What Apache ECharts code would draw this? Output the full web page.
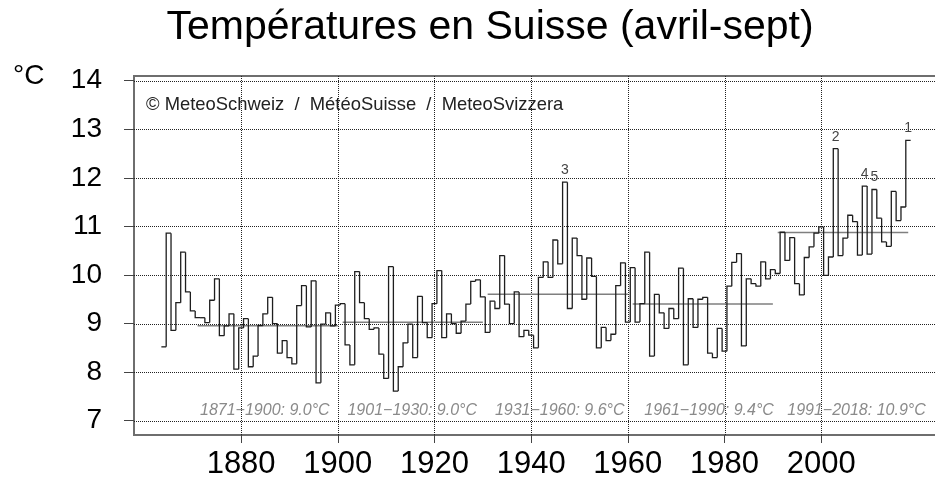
<!DOCTYPE html>
<html lang="fr">
<head>
<meta charset="utf-8">
<title>Températures en Suisse (avril-sept)</title>
<script src="https://cdn.jsdelivr.net/npm/echarts@6/dist/echarts.min.js"></script>
<style>
  html, body { margin: 0; padding: 0; background: #fff; }
  #main { width: 935px; height: 480px; }
</style>
</head>
<body>
<div id="main"></div>
<script>
// température moyenne avril-septembre en Suisse, une valeur par année depuis 1864
var firstYear = 1864;
var temps = [
  8.52, 10.86, 8.86, 9.43, 10.47, 9.65, 9.26,                          // 1864-1870
  9.12, 9.12, 9.02, 9.48, 9.92, 8.75, 8.95, 9.20, 8.06, 8.91,          // 1871-1880
  9.10, 8.11, 8.33, 8.96, 9.20, 9.54, 9.00, 8.39, 8.65, 8.30,          // 1881-1890
  8.17, 9.37, 9.78, 8.93, 9.88, 7.78, 8.99, 9.22, 8.95, 9.38,          // 1891-1900
  9.41, 8.56, 8.15, 10.07, 9.43, 9.10, 8.88, 8.91, 8.37, 7.87,         // 1901-1910
  10.17, 7.61, 8.11, 8.60, 8.99, 8.30, 9.56, 9.02, 8.71, 9.41,         // 1911-1920
  10.09, 8.71, 9.20, 9.00, 8.80, 9.05, 9.40, 9.87, 9.90, 9.55,         // 1921-1930
  8.82, 9.46, 9.31, 10.40, 9.40, 9.00, 9.65, 8.73, 8.86, 8.76,         // 1931-1940
  8.50, 9.95, 10.27, 9.95, 10.72, 10.23, 11.91, 9.31, 10.76, 10.40,    // 1941-1950
  9.50, 10.35, 9.97, 8.50, 8.92, 8.65, 8.78, 9.78, 10.25, 9.03,        // 1951-1960
  10.15, 9.03, 9.41, 10.47, 8.33, 9.60, 9.22, 8.90, 9.31, 9.10,        // 1961-1970
  10.14, 8.15, 9.51, 8.92, 9.50, 9.54, 8.39, 8.30, 8.90, 8.43,         // 1971-1980
  9.77, 10.26, 10.44, 8.54, 9.92, 9.82, 9.77, 10.27, 9.92, 10.11,      // 1981-1990
  10.03, 10.88, 10.30, 10.77, 9.82, 9.59, 10.36, 10.58, 10.86, 10.99,  // 1991-2000
  9.99, 10.37, 12.60, 10.40, 10.76, 11.23, 11.10, 10.41, 11.83, 10.43, // 2001-2010
  11.76, 11.17, 10.68, 10.59, 11.72, 11.12, 11.40, 12.77               // 2011-2018
];
var years = temps.map(function (v, i) { return firstYear + i; });

// périodes de référence
var periodStart = [1871, 1901, 1931, 1961, 1991];
var periodEnd = [1900, 1930, 1960, 1990, 2018];

// graduations
var xTicks = [1880, 1900, 1920, 1940, 1960, 1980, 2000];
var yTicks = [7, 8, 9, 10, 11, 12, 13, 14];

var FONT = "'Liberation Sans', Arial, Helvetica, sans-serif";

// moyenne de chaque période
var normals = periodStart.map(function (s, k) {
  var sum = 0, n = 0;
  years.forEach(function (y, i) {
    if (y >= s && y <= periodEnd[k]) { sum += temps[i]; n++; }
  });
  return sum / n;
});
// où poser le texte des périodes (en années), à peu près comme l'original
var normalLabelAt = [1884.9, 1915.4, 1945.9, 1976.8, 2007.3];

// les 5 années les plus chaudes
var ranked = years.map(function (y, i) { return [y, temps[i]]; })
  .sort(function (a, b) { return b[1] - a[1]; })
  .slice(0, 5)
  .map(function (d, k) { return [d[0], d[1], k + 1]; });

var myChart = echarts.init(document.getElementById('main'));

var option = {
  animation: false,
  backgroundColor: '#fff',
  textStyle: { fontFamily: FONT },
  graphic: [
    {
      type: 'text', x: 490, y: 28,
      style: {
        text: 'Températures en Suisse (avril-sept)', fill: '#000',
        font: '41px ' + FONT, textAlign: 'center', textVerticalAlign: 'middle'
      }
    },
    {
      type: 'text', x: 13, y: 76,
      style: { text: '°C', fill: '#000', font: '28px ' + FONT, textVerticalAlign: 'middle' }
    },
    {
      type: 'text', x: 146, y: 105, z: 10,
      style: {
        text: '© MeteoSchweiz  /  MétéoSuisse  /  MeteoSvizzera', fill: '#222',
        font: '18.4px ' + FONT, textVerticalAlign: 'middle'
      }
    }
  ],
  grid: {
    // le cadre déborde à droite, comme dans l'original (bord droit coupé)
    left: 134, top: 76, width: 804, height: 359,
    outerBoundsMode: 'none', containLabel: false,
    show: true, borderColor: '#6e6e6e', borderWidth: 2, backgroundColor: 'transparent'
  },
  xAxis: {
    type: 'value', min: 1857.84, max: 2024.16,
    axisLine: { show: false },
    splitLine: { show: false },
    axisTick: { customValues: xTicks, length: 8, lineStyle: { color: '#444', width: 1 } },
    axisLabel: {
      customValues: xTicks, fontSize: 31, color: '#000', margin: 14, fontFamily: FONT,
      formatter: function (v) { return String(v); }
    }
  },
  yAxis: {
    type: 'value', min: 6.705, max: 14.097,
    axisLine: { show: false },
    splitLine: { show: false },
    axisTick: { customValues: yTicks, length: 10, lineStyle: { color: '#444', width: 1 } },
    axisLabel: {
      customValues: yTicks, fontSize: 28, color: '#000', margin: 32, fontFamily: FONT,
      padding: [0, 0, 8, 0],
      formatter: function (v) { return String(v); }
    }
  },
  series: [
    {
      // grille pointillée
      name: 'grille', type: 'custom', silent: true, z: 1,
      data: xTicks.map(function (x) { return [x, 'v']; })
        .concat(yTicks.map(function (y) { return [y, 'h']; })),
      encode: { x: -1, y: -1 },
      renderItem: function (params, api) {
        var cs = params.coordSys;
        var val = api.value(0), dir = api.value(1);
        var pts;
        if (dir === 'v') {
          var px = Math.round(api.coord([val, 10])[0]) + 0.5;
          pts = [[px, cs.y], [px, cs.y + cs.height]];
        } else {
          var py = Math.round(api.coord([1900, val])[1]) + 0.5;
          pts = [[cs.x, py], [cs.x + cs.width, py]];
        }
        return {
          type: 'line',
          shape: { x1: pts[0][0], y1: pts[0][1], x2: pts[1][0], y2: pts[1][1] },
          style: { stroke: '#222', lineWidth: 1, lineDash: [1, 1] }
        };
      }
    },
    {
      // moyennes par période
      name: 'normales', type: 'custom', silent: true, z: 2,
      data: periodStart.map(function (s, k) {
        return [s, periodEnd[k], normals[k], normalLabelAt[k]];
      }),
      encode: { x: [0, 1], y: 2 },
      renderItem: function (params, api) {
        var s = api.value(0), e = api.value(1), m = api.value(2), lx = api.value(3);
        var a = api.coord([s, m]), b = api.coord([e, m]);
        var t = api.coord([lx, 7]);
        return {
          type: 'group',
          children: [
            {
              type: 'line',
              shape: { x1: a[0], y1: a[1], x2: b[0], y2: b[1] },
              style: { stroke: '#7f7f7f', lineWidth: 1.5 }
            },
            {
              type: 'text', x: t[0], y: t[1] - 10,
              style: {
                text: s + '\u2212' + e + ': ' + m.toFixed(1) + '°C',
                fill: '#8a8a8a', font: 'italic 16px ' + FONT,
                textAlign: 'center', textVerticalAlign: 'middle'
              }
            }
          ]
        };
      }
    },
    {
      // série annuelle en escalier
      name: 'température', type: 'custom', silent: true, z: 3,
      data: years.map(function (y, i) { return [y, temps[i], i > 0 ? temps[i - 1] : temps[i]]; }),
      encode: { x: 0, y: 1 },
      renderItem: function (params, api) {
        var y = api.value(0), v = api.value(1), prev = api.value(2);
        var pts = [];
        if (params.dataIndex > 0) pts.push(api.coord([y - 0.5, prev]));
        pts.push(api.coord([y - 0.5, v]));
        pts.push(api.coord([y + 0.5, v]));
        return {
          type: 'polyline',
          shape: { points: pts },
          style: { stroke: '#1e1e1e', lineWidth: 1.3, fill: null }
        };
      }
    },
    {
      // rang des années les plus chaudes
      name: 'rang', type: 'custom', silent: true, z: 4,
      data: ranked,
      encode: { x: 0, y: 1 },
      renderItem: function (params, api) {
        var p = api.coord([api.value(0), api.value(1)]);
        return {
          type: 'text', x: p[0], y: p[1] - 5,
          style: {
            text: String(api.value(2)), fill: '#444', font: '14px ' + FONT,
            textAlign: 'center', textVerticalAlign: 'bottom'
          }
        };
      }
    }
  ]
};

myChart.setOption(option);
</script>
</body>
</html>
